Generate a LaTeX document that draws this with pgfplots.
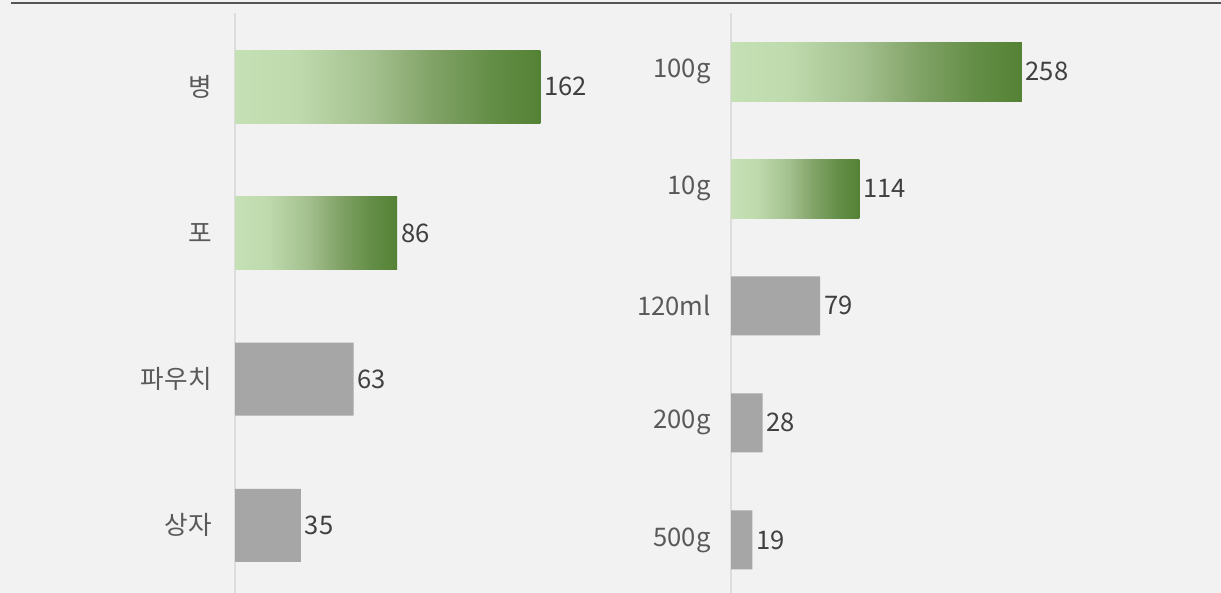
\documentclass[border=0pt]{standalone}
\usepackage{pgfplots}
\pgfplotsset{compat=1.18}
\usepackage{fontspec}
\setmainfont{Noto Sans CJK KR}
\definecolor{bgcol}{HTML}{F2F2F2}
\definecolor{topline}{HTML}{555555}
\definecolor{axcol}{HTML}{DDDDDD}
\definecolor{catcol}{HTML}{595959}
\definecolor{valcol}{HTML}{404040}
\definecolor{barGray}{HTML}{A6A6A6}
\definecolor{gA}{HTML}{C5E0B4}
\definecolor{gB}{HTML}{BFDAAD}
\definecolor{gC}{HTML}{A3C08E}
\definecolor{gD}{HTML}{80A266}
\definecolor{gE}{HTML}{628D45}
\definecolor{gF}{HTML}{548235}
\pgfdeclarehorizontalshading{greenbar}{100bp}{color(0bp)=(gA); color(25bp)=(gA); color(35bp)=(gB); color(47.5bp)=(gC); color(57.5bp)=(gD); color(67.5bp)=(gE); color(75bp)=(gF); color(100bp)=(gF)}
\pgfplotsset{
  mybars/.style={
    scale only axis,
    anchor=south west,
    xmin=0, ymin=-0.5, y dir=reverse,
    clip=false,
    axis x line=none,
    axis y line=left,
    y axis line style={-, draw=axcol, line width=0.75pt},
    major tick length=0pt,
    ytick style={draw=none},
    yticklabel style={font=\fontsize{12.8}{15}\selectfont, text=catcol, anchor=east, inner sep=0pt},
    nodes near coords,
    point meta=x,
    /pgf/number format/assume math mode=true,
    every node near coord/.append style={font=\fontsize{12.8}{15}\selectfont, text=valcol, anchor=west, inner sep=0pt, xshift=1.8pt},
  },
  greenb/.style={xbar, bar shift=0pt, draw=none, shading=greenbar, shade},
  grayb/.style={xbar, bar shift=0pt, draw=none, fill=barGray},
}
\begin{document}
\begin{tikzpicture}
\useasboundingbox (0,0) rectangle (610.5pt,296.5pt);
\fill[bgcol] (0,0) rectangle (610.5pt,296.5pt);
\draw[topline, line width=1pt] (5.5pt,295pt) -- (610.5pt,295pt);

% left chart
\begin{axis}[mybars,
  at={(117.5pt,-2.75pt)},
  width=182.5pt, height=292.5pt,
  xmax=193.7, ymax=3.5,
  ytick={0,1,2,3},
  yticklabels={병,포,파우치,상자},
  yticklabel style={xshift=-11.5pt},
]
\addplot[greenb, bar width=36.5pt] coordinates {(162,0)};
\addplot[greenb, bar width=36.5pt] coordinates {(86,1)};
\addplot[grayb, bar width=36.5pt] coordinates {(63,2) (35,3)};
\end{axis}

% right chart
\begin{axis}[mybars,
  at={(365.5pt,-2.75pt)},
  width=209.5pt, height=292.75pt,
  xmax=371.8, ymax=4.5,
  ytick={0,1,2,3,4},
  yticklabels={100g,10g,120ml,200g,500g},
  yticklabel style={xshift=-10pt},
]
\addplot[greenb, bar width=29.5pt] coordinates {(258,0)};
\addplot[greenb, bar width=29.5pt] coordinates {(114,1)};
\addplot[grayb, bar width=29.5pt] coordinates {(79,2) (28,3) (19,4)};
\end{axis}
\end{tikzpicture}
\end{document}
